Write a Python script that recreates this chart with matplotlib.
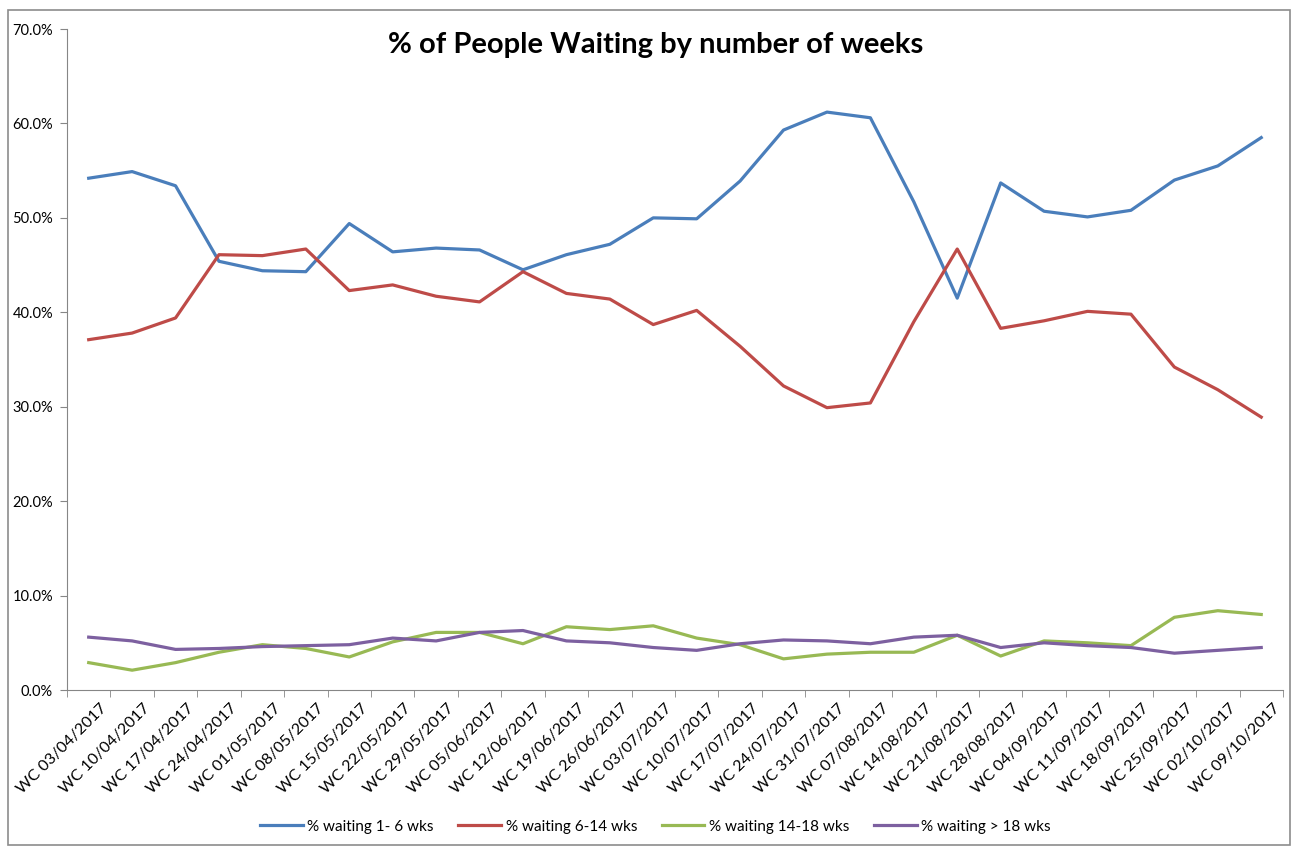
import matplotlib
matplotlib.use("Agg")
import matplotlib.pyplot as plt
import numpy as np
from matplotlib.patches import Rectangle
from matplotlib.ticker import FuncFormatter, FixedLocator

plt.rcParams['font.family'] = ['Liberation Sans Narrow', 'Lato', 'DejaVu Sans']

weeks = ["03/04", "10/04", "17/04", "24/04", "01/05", "08/05", "15/05",
         "22/05", "29/05", "05/06", "12/06", "19/06", "26/06", "03/07",
         "10/07", "17/07", "24/07", "31/07", "07/08", "14/08", "21/08",
         "28/08", "04/09", "11/09", "18/09", "25/09", "02/10", "09/10"]
labels = ["WC %s/2017" % w for w in weeks]

wait_1_6 = [54.2, 54.9, 53.4, 45.4, 44.4, 44.3, 49.4, 46.4, 46.8, 46.6,
            44.5, 46.1, 47.2, 50.0, 49.9, 53.9, 59.3, 61.2, 60.6, 51.7,
            41.5, 53.7, 50.7, 50.1, 50.8, 54.0, 55.5, 58.5]
wait_6_14 = [37.1, 37.8, 39.4, 46.1, 46.0, 46.7, 42.3, 42.9, 41.7, 41.1,
             44.3, 42.0, 41.4, 38.7, 40.2, 36.4, 32.2, 29.9, 30.4, 39.0,
             46.7, 38.3, 39.1, 40.1, 39.8, 34.2, 31.8, 28.9]
wait_14_18 = [2.9, 2.1, 2.9, 4.0, 4.8, 4.4, 3.5, 5.1, 6.1, 6.1,
              4.9, 6.7, 6.4, 6.8, 5.5, 4.8, 3.3, 3.8, 4.0, 4.0,
              5.8, 3.6, 5.2, 5.0, 4.7, 7.7, 8.4, 8.0]
wait_18 = [5.6, 5.2, 4.3, 4.4, 4.6, 4.7, 4.8, 5.5, 5.2, 6.1,
           6.3, 5.2, 5.0, 4.5, 4.2, 4.9, 5.3, 5.2, 4.9, 5.6,
           5.8, 4.5, 5.0, 4.7, 4.5, 3.9, 4.2, 4.5]

series = [
    ("% waiting 1- 6 wks", wait_1_6, "#4A7EBB"),
    ("% waiting 6-14 wks", wait_6_14, "#BE4B48"),
    ("% waiting 14-18 wks", wait_14_18, "#98B954"),
    ("% waiting > 18 wks", wait_18, "#7D60A0"),
]

fig = plt.figure(figsize=(12.98, 8.48), dpi=100)
fig.patches.append(Rectangle((0.006, 0.004), 0.988, 0.984, transform=fig.transFigure,
                             fill=False, edgecolor='#8C8C8C', linewidth=1.2))
ax = fig.add_axes([0.0516, 0.1863, 0.9368, 0.7795])

x = np.arange(len(labels))
for name, vals, col in series:
    ax.plot(x, vals, color=col, lw=2.3, label=name, solid_joinstyle='round')

ax.set_xlim(-0.5, len(labels) - 0.5)
ax.set_ylim(0, 70)
ax.set_yticks(np.arange(0, 71, 10))
ax.yaxis.set_major_formatter(FuncFormatter(lambda v, p: "%.1f%%" % v))

# category labels, nudged right of the category centre like Excel does
ax.set_xticks(x)
ax.set_xticklabels([])
for i, lab in zip(x, labels):
    ax.annotate(lab, xy=(i, 0), xycoords=('data', 'axes fraction'),
                xytext=(8, -8), textcoords='offset points', rotation=45,
                ha='right', va='top', rotation_mode='anchor', fontsize=11.5)
ax.xaxis.set_minor_locator(FixedLocator(np.arange(-0.5, len(labels), 1.0)))
ax.tick_params(axis='x', which='major', length=0)
ax.tick_params(axis='x', which='minor', length=5, color='#868686')
ax.tick_params(axis='y', length=5, color='#868686', labelsize=10.5, pad=5)

for s in ['top', 'right']:
    ax.spines[s].set_visible(False)
for s in ['left', 'bottom']:
    ax.spines[s].set_color('#868686')

fig.text(0.505, 0.947, "% of People Waiting by number of weeks", ha='center', va='center',
         fontsize=21, fontweight='bold')

fig.legend(loc='center', bbox_to_anchor=(0.505, 0.025), ncol=4, frameon=False,
           fontsize=11, handlelength=2.8, handletextpad=0.3, columnspacing=1.6)

fig.savefig("out.png", dpi=100)
